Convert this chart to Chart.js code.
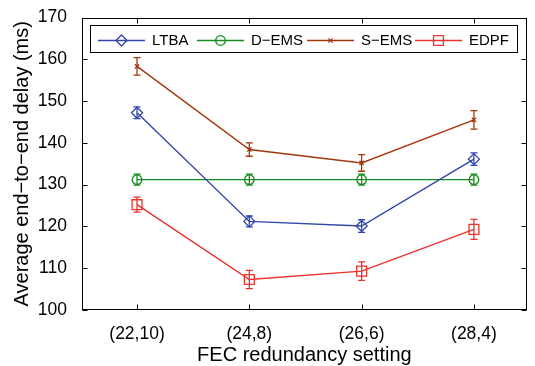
<!DOCTYPE html>
<html lang="en">
<head>
    <meta charset="UTF-8">
    <title>Average end-to-end delay vs FEC redundancy</title>
    <script src="https://cdn.jsdelivr.net/npm/chart.js@4/dist/chart.umd.min.js"></script>
    <style>
        body { margin: 0; background: #fff; }
        .chart-container { position: relative; width: 535px; height: 366px; }
    </style>
</head>
<body>
    <div class="chart-container">
        <canvas id="delayChart" width="535" height="366"></canvas>
    </div>

    <script>
        // FEC settings on the x axis
        const categories = ['(22,10)', '(24,8)', '(26,6)', '(28,4)'];
        const yTicks = [100, 110, 120, 130, 140, 150, 160, 170];

        // mean delay (ms) per scheme
        const ltba = [147.2, 121.2, 120.1, 136.1];
        const dems = [131.2, 131.2, 131.2, 131.2];
        const sems = [158.3, 138.4, 135.2, 145.5];
        const edpf = [125.2, 107.3, 109.3, 119.3];

        // error bar half-lengths (ms)
        const ltbaErr = [1.4, 1.3, 1.5, 1.5];
        const demsErr = [1.3, 1.3, 1.3, 1.3];
        const semsErr = [2.1, 1.6, 2.0, 2.2];
        const edpfErr = [1.8, 2.2, 2.2, 2.4];

        const FONT = '"Liberation Sans", Arial, sans-serif';

        const series = [
            { label: 'LTBA',  values: ltba, err: ltbaErr, color: 'rgb(50,70,170)',  style: 'rectRot',  radius: 5.5 },
            { label: 'D\u2212EMS', values: dems, err: demsErr, color: 'rgb(20,140,30)',  style: 'circle',   radius: 4.8 },
            { label: 'S\u2212EMS', values: sems, err: semsErr, color: 'rgb(165,55,15)',  style: 'crossRot', radius: 3 },
            { label: 'EDPF',  values: edpf, err: edpfErr, color: 'rgb(235,50,45)',  style: 'rect',     radius: 7 }
        ];

        const datasets = series.map(s => ({
            label: s.label,
            data: s.values.map((v, i) => ({ x: i + 1, y: v })),
            borderColor: s.color,
            backgroundColor: 'rgba(0,0,0,0)',
            borderWidth: 1.4,
            pointStyle: s.style,
            pointRadius: s.radius,
            pointBorderWidth: 1.3,
            pointBorderColor: s.color,
            pointBackgroundColor: 'rgba(0,0,0,0)',
            tension: 0
        }));

        // vertical error bars with caps
        const errorBars = {
            id: 'errorBars',
            afterDatasetsDraw(chart) {
                const { ctx, scales: { x, y } } = chart;
                series.forEach((s, i) => {
                    ctx.save();
                    ctx.strokeStyle = s.color;
                    ctx.lineWidth = 1.3;
                    s.values.forEach((v, j) => {
                        const px = x.getPixelForValue(j + 1);
                        const top = y.getPixelForValue(v + s.err[j]);
                        const bot = y.getPixelForValue(v - s.err[j]);
                        ctx.beginPath();
                        ctx.moveTo(px, top); ctx.lineTo(px, bot);
                        ctx.moveTo(px - 3.5, top); ctx.lineTo(px + 3.5, top);
                        ctx.moveTo(px - 3.5, bot); ctx.lineTo(px + 3.5, bot);
                        ctx.stroke();
                    });
                    ctx.restore();
                });
            }
        };

        // box frame with inward ticks, and the legend box inside the plot
        const frameAndLegend = {
            id: 'frameAndLegend',
            afterDraw(chart) {
                const { ctx, chartArea: a, scales: { x, y } } = chart;
                const L = Math.round(a.left) + 0.5, R = Math.round(a.right) - 0.5;
                const T = Math.round(a.top) + 0.5, B = Math.round(a.bottom) - 0.5;
                ctx.save();
                ctx.strokeStyle = '#000';
                ctx.lineWidth = 1;
                ctx.strokeRect(L, T, R - L, B - T);
                ctx.beginPath();
                x.ticks.forEach(t => {
                    const px = Math.round(x.getPixelForValue(t.value)) + 0.5;
                    ctx.moveTo(px, B); ctx.lineTo(px, B - 5);
                    ctx.moveTo(px, T); ctx.lineTo(px, T + 5);
                });
                y.ticks.forEach(t => {
                    const py = Math.round(y.getPixelForValue(t.value)) + 0.5;
                    ctx.moveTo(L, py); ctx.lineTo(L + 5, py);
                    ctx.moveTo(R, py); ctx.lineTo(R - 5, py);
                });
                ctx.stroke();

                // legend
                ctx.fillStyle = '#fff';
                ctx.fillRect(90.5, 25.5, 427, 27);
                ctx.strokeRect(90.5, 25.5, 427, 27);
                const lineStarts = [98, 197, 307, 415];
                const ly = 40.5;
                ctx.font = '15px ' + FONT;
                ctx.textBaseline = 'middle';
                series.forEach((s, i) => {
                    const x0 = lineStarts[i], x1 = x0 + 47;
                    ctx.strokeStyle = s.color;
                    ctx.lineWidth = 1.4;
                    ctx.beginPath();
                    ctx.moveTo(x0, ly); ctx.lineTo(x1, ly);
                    ctx.stroke();
                    ctx.lineWidth = 1.3;
                    ctx.fillStyle = 'rgba(0,0,0,0)';
                    Chart.helpers.drawPoint(ctx, {
                        pointStyle: s.style, radius: s.radius, rotation: 0, borderWidth: 1.3
                    }, (x0 + x1) / 2, ly);
                    ctx.fillStyle = '#000';
                    ctx.fillText(s.label, x1 + 7, ly + 0.5);
                });
                ctx.restore();
            }
        };

        const ctx = document.getElementById('delayChart').getContext('2d');
        new Chart(ctx, {
            type: 'line',
            data: { datasets: datasets },
            plugins: [errorBars, frameAndLegend],
            options: {
                responsive: false,
                animation: false,
                devicePixelRatio: 1,
                layout: { padding: { top: 16, right: 2, left: 0, bottom: 0 } },
                plugins: {
                    legend: { display: false },
                    tooltip: { enabled: false }
                },
                scales: {
                    x: {
                        type: 'linear',
                        min: 0.51,
                        max: 4.47,
                        grid: { display: false },
                        border: { display: false },
                        afterBuildTicks: scale => {
                            scale.ticks = categories.map((c, i) => ({ value: i + 1 }));
                        },
                        afterFit: scale => { scale.height = 56; },
                        ticks: {
                            padding: 6,
                            color: '#000',
                            font: { family: FONT, size: 17.5 },
                            callback: value => categories[value - 1] || ''
                        },
                        title: {
                            display: true,
                            text: 'FEC redundancy setting',
                            color: '#000',
                            font: { family: FONT, size: 20, lineHeight: 1 },
                            padding: { top: 0, bottom: 0.6 }
                        }
                    },
                    y: {
                        min: 100,
                        max: 170,
                        grid: { display: false },
                        border: { display: false },
                        afterBuildTicks: scale => {
                            scale.ticks = yTicks.map(v => ({ value: v }));
                        },
                        afterFit: scale => { scale.width = 82; },
                        ticks: {
                            padding: 7,
                            color: '#000',
                            font: { family: FONT, size: 17.5 }
                        },
                        title: {
                            display: true,
                            text: 'Average end\u2212to\u2212end delay (ms)',
                            color: '#000',
                            font: { family: FONT, size: 20, lineHeight: 1.2 },
                            padding: { top: 10, bottom: 0 }
                        }
                    }
                }
            }
        });
    </script>
</body>
</html>
